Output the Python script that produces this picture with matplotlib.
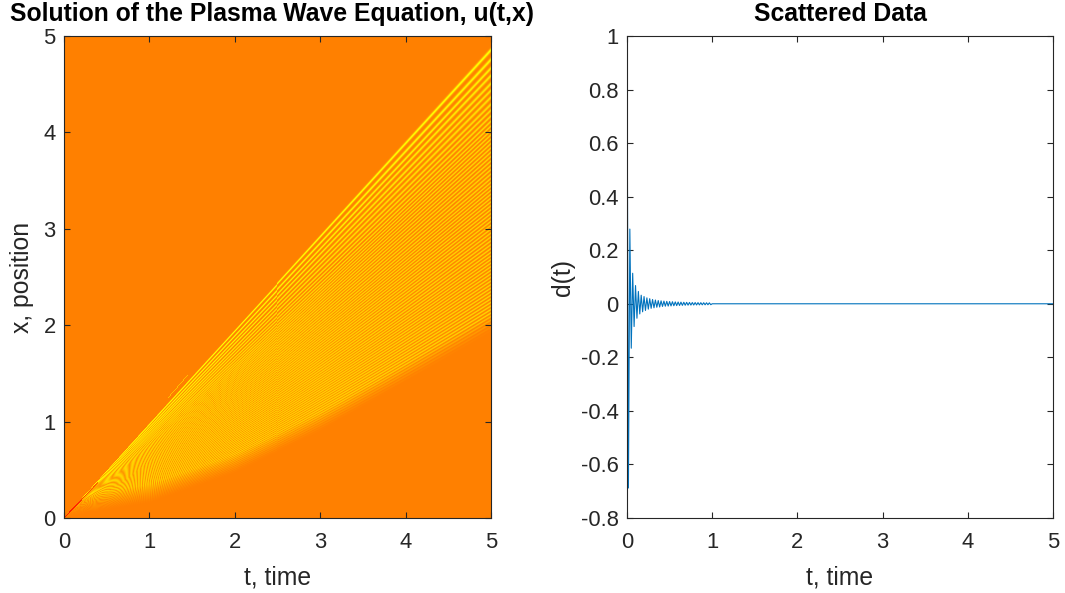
import numpy as np
import matplotlib
matplotlib.use("Agg")
import matplotlib.pyplot as plt
from matplotlib.ticker import FuncFormatter, MultipleLocator

plt.rcParams['font.family'] = ['Liberation Sans', 'DejaVu Sans']

# ---------------- wave field u(t, x) ----------------
T_MAX = 5.0
X_MAX = 5.0
front_speed = 0.971          # leading crest: x = front_speed * t
spread_power = 0.78          # crests trail the front by offset * (t / T_MAX)**p
# offset (in x, at t = T_MAX) of each crest behind the front
crest_offset = [0.0, 0.10, 0.19, 0.265, 0.35, 0.42, 0.49, 0.565, 0.625,
                0.685, 0.74, 0.79, 1.35, 2.10, 2.94, 3.30]
crest_index = [0, 1, 2, 3, 4, 5, 6, 7, 8, 9, 10, 11, 23.4, 42.0, 64.7, 75.0]
# trailing edge of the wave packet
edge_t = [0, 1, 2, 3, 4, 5]
edge_x = [0, 0.15, 0.46, 0.89, 1.40, 1.92]
# negative ridge trailing the front close to the origin
ridge_slope = 0.925
ridge_t_end = 0.40

# ---------------- scattered data d(t) ----------------
sample_dt = 1.0 / 60.0
d_samples = [1.0, -0.688, 0.279, -0.166, 0.114, -0.085, 0.068, -0.054,
             0.046, -0.038, 0.032, -0.030, 0.027, -0.025, 0.022, -0.020,
             0.019, -0.017, 0.016, -0.015, 0.014, -0.013, 0.012, -0.012,
             0.011, -0.010, 0.010, -0.009, 0.009, -0.0085, 0.0083, -0.008,
             0.0077, -0.0074, 0.0071, -0.0069, 0.0066, -0.0064, 0.0062,
             -0.006, 0.0057, -0.0055, 0.0054, -0.0052, 0.005, -0.0049,
             0.0047, -0.0046, 0.0045, -0.0044, 0.0043, -0.0042, 0.0041,
             -0.004, 0.0039, -0.0038, 0.0037, -0.0036, 0.0035, -0.0034,
             0.0]
d_end_t = 5.0
d_end_value = 0.0

# ---------------- build the field ----------------
nt, nx = 428, 482
cell_x = X_MAX / nx
t = (np.arange(nt) + 0.5) / nt * T_MAX
x = (np.arange(nx) + 0.5) / nx * X_MAX
TT, XX = np.meshgrid(t, x)

scale = (TT / T_MAX) ** spread_power
eta = (front_speed * TT - XX) / scale

offs = np.array(crest_offset)
idx = np.array(crest_index)
first_gap = offs[1] - offs[0]
P = np.interp(eta, offs, idx)
P = np.where(eta < 0, eta / first_gap, P)
P = np.clip(P, -1.0, None)

seg_mid = 0.5 * (offs[1:] + offs[:-1])
seg_gap = np.diff(offs) / np.diff(idx)
spacing_x = np.interp(eta, seg_mid, seg_gap) * scale

# Gaussian crest profile around the nearest crest
dist = (P - np.round(P)) * spacing_x
rel_width = 0.20 - 0.05 * np.exp(-np.clip(P, 0, None) / 4.0)
width = np.maximum(rel_width * spacing_x,
                   np.minimum(0.75 * cell_x, 0.3 * spacing_x))
crest = np.exp(-0.5 * (dist / width) ** 2)

amp = 0.64 + 0.36 * np.exp(-P / 5.0)
x_low = np.interp(TT, edge_t, edge_x)
fade = np.clip((XX - x_low) / 0.2, 0, 1) ** 1.5
u = amp * crest * fade * (P > -0.45)

# negative ridge near the origin
ridge = (np.abs(XX - ridge_slope * TT) < 0.008) & (TT < ridge_t_end)
u = np.where(ridge, -0.85 * (1 - TT / ridge_t_end) ** 0.5, u)

# faint short streak ahead of the front
streak = (TT > 1.22) & (TT < 1.45) & (np.abs(XX - 1.025 * TT) < 0.006)
u = np.where(streak, np.maximum(u, 0.5), u)

# ---------------- figure ----------------
W, H = 1065, 593
fig = plt.figure(figsize=(W / 100, H / 100), dpi=100)
ax_bottom = 1 - 518 / H
ax_height = 482 / H
ax1 = fig.add_axes([64 / W, ax_bottom, 427 / W, ax_height])
ax2 = fig.add_axes([627 / W, ax_bottom, 426 / W, ax_height])

TICK_FS = 15.8
LABEL_FS = 17.8
DARK = '#262626'

ax1.imshow(u, cmap='autumn', vmin=-1, vmax=1, origin='lower',
           extent=[0, T_MAX, 0, X_MAX], aspect='auto', interpolation='nearest')
ax1.set_xlim(0, T_MAX)
ax1.set_ylim(0, X_MAX)
ax1.set_xlabel('t, time', fontsize=LABEL_FS, color=DARK, labelpad=9)
ax1.set_ylabel('x, position', fontsize=LABEL_FS, color=DARK, labelpad=7)
ax1.set_title('Solution of the Plasma Wave Equation, u(t,x)', fontsize=LABEL_FS,
              fontweight='bold', x=0.486, pad=10.5)

t_d = np.arange(len(d_samples)) * sample_dt
t_plot = np.append(t_d, d_end_t)
d_plot = np.append(np.array(d_samples), d_end_value)
ax2.plot(t_plot, d_plot, color='#0072BD', lw=0.8)
ax2.set_xlim(0, 5)
ax2.set_ylim(-0.8, 1)
ax2.yaxis.set_major_locator(MultipleLocator(0.2))
ax2.set_xlabel('t, time', fontsize=LABEL_FS, color=DARK, labelpad=9)
ax2.set_ylabel('d(t)', fontsize=LABEL_FS, color=DARK, labelpad=4)
ax2.set_title('Scattered Data', fontsize=LABEL_FS, fontweight='bold', pad=10.5)

fmt = FuncFormatter(lambda v, _: '%g' % round(v, 6))
for ax in (ax1, ax2):
    ax.xaxis.set_major_locator(MultipleLocator(1))
    ax.xaxis.set_major_formatter(fmt)
    ax.yaxis.set_major_formatter(fmt)
    ax.tick_params(direction='in', top=True, right=True, length=4,
                   width=0.8, color=DARK, labelcolor=DARK,
                   labelsize=TICK_FS)
    ax.tick_params(axis='x', pad=10)
    ax.tick_params(axis='y', pad=6)
    for s in ax.spines.values():
        s.set_color(DARK)
        s.set_linewidth(0.8)

fig.savefig('out.png', dpi=100)
